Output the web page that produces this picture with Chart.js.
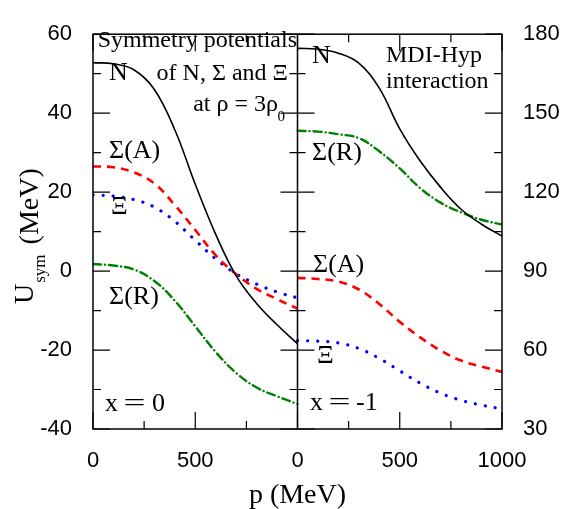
<!DOCTYPE html>
<html>
<head>
<meta charset="utf-8">
<script src="https://cdn.jsdelivr.net/npm/chart.js@4.4.0/dist/chart.umd.min.js"></script>
<style>
  html, body { margin: 0; padding: 0; background: #fff; }
  #wrap { width: 564px; height: 509px; position: relative; }
</style>
</head>
<body>
<div id="wrap"><canvas id="c" width="564" height="509"></canvas></div>
<script>
// Momentum p (MeV)
const momentum = [0, 100, 200, 300, 400, 500, 600, 700, 800, 900, 1000];

// Left panel: x = 0 (MeV, left axis)
const leftN      = [52.8, 52.5, 51.0, 46.0, 35.8, 22.0, 9.3, -1.2, -8.2, -13.6, -18.4];
const leftSigmaA = [26.5, 26.3, 25.0, 22.2, 16.7, 10.4, 4.0, -0.8, -4.5, -7.1, -9.5];
const leftXi     = [19.3, 19.0, 18.1, 16.2, 12.6, 7.8, 3.1, -0.7, -3.3, -5.3, -6.8];
const leftSigmaR = [1.8, 1.4, 0.4, -2.5, -7.5, -14.0, -20.5, -25.8, -29.5, -31.7, -33.7];

// Right panel: x = -1 (MeV, right axis)
const rightN      = [174.6, 174.3, 172.8, 169.0, 159.5, 144.0, 131.8, 121.8, 113.5, 107.8, 103.3];
const rightSigmaR = [143.3, 143.0, 142.0, 140.5, 135.5, 129.0, 121.5, 116.0, 112.3, 109.5, 107.7];
const rightSigmaA = [87.4, 87.0, 86.0, 83.0, 77.5, 70.7, 64.8, 59.8, 56.0, 53.7, 51.7];
const rightXi     = [63.6, 63.4, 62.7, 60.6, 56.8, 52.1, 47.4, 43.6, 40.9, 39.1, 37.6];

// Tick labels
const xTickLabels = ['0', '500', '0', '500', '1000'];
const leftYTicks = [-40, -20, 0, 20, 40, 60];
const rightYTicks = [30, 60, 90, 120, 150, 180];

const pts = arr => momentum.map((p, i) => ({ x: p, y: arr[i] }));

Chart.defaults.font.family = '"Liberation Sans", Arial, sans-serif';
Chart.defaults.color = '#000';

const RED = '#ff0000', BLUE = '#0000ff', GREEN = '#008000', BLACK = '#000000';

function ds(data, color, dash, width, side, cap) {
  return {
    data: pts(data),
    borderColor: color,
    borderWidth: width,
    borderDash: dash,
    borderCapStyle: cap || 'butt',
    pointRadius: 0,
    fill: false,
    tension: 0.4,
    xAxisID: side === 'L' ? 'xL' : 'xR',
    yAxisID: side === 'L' ? 'yL' : 'yR'
  };
}

const framePlugin = {
  id: 'frame',
  afterDatasetsDraw(chart) {
    const ctx = chart.ctx;
    const a = chart.chartArea;
    const xL = chart.scales.xL, yL = chart.scales.yL, yR = chart.scales.yR;
    const xMid = xL.getPixelForValue(1000);
    ctx.save();
    ctx.strokeStyle = '#000';
    ctx.lineWidth = 1.5;
    ctx.strokeRect(a.left, a.top, a.right - a.left, a.bottom - a.top);
    ctx.beginPath();
    ctx.moveTo(xMid, a.top); ctx.lineTo(xMid, a.bottom);
    ctx.stroke();
    ctx.lineWidth = 1.2;
    ctx.beginPath();
    // left scale ticks
    for (let v = -40; v <= 60; v += 10) {
      const y = yL.getPixelForValue(v);
      const len = v % 20 === 0 ? 17 : 8;
      ctx.moveTo(a.left, y); ctx.lineTo(a.left + len, y);
      ctx.moveTo(xMid, y); ctx.lineTo(xMid - len, y);
    }
    // right scale ticks
    for (let v = 30; v <= 180; v += 15) {
      const y = yR.getPixelForValue(v);
      const len = v % 30 === 0 ? 17 : 8;
      ctx.moveTo(a.right, y); ctx.lineTo(a.right - len, y);
      ctx.moveTo(xMid, y); ctx.lineTo(xMid + len, y);
    }
    // x ticks
    for (let v = 0; v <= 2000; v += 250) {
      const x = xL.getPixelForValue(v);
      const len = v % 500 === 0 ? 17 : 8;
      ctx.moveTo(x, a.bottom); ctx.lineTo(x, a.bottom - len);
      ctx.moveTo(x, a.top); ctx.lineTo(x, a.top + len);
    }
    ctx.stroke();

    // annotations
    ctx.fillStyle = '#000';
    ctx.textBaseline = 'alphabetic';
    const serif = s => s + 'px "Liberation Serif", "Times New Roman", serif';
    const txt = (t, x, y, size, align) => {
      ctx.font = serif(size); ctx.textAlign = align || 'left'; ctx.fillText(t, x, y);
    };
    // "x = v" drawn piecewise to mimic the wide spacing
    const eqLabel = (xStart, eqCenter, valStart, val, y) => {
      txt('x', xStart, y, 26);
      ctx.save();
      ctx.translate(eqCenter, y);
      ctx.scale(1.5, 1);
      ctx.font = serif(26); ctx.textAlign = 'center';
      ctx.fillText('=', 0, 0);
      ctx.restore();
      txt(val, valStart, y, 26);
    };
    txt('Symmetry potentials', 297, 47, 24, 'right');
    txt('of N, \u03A3 and \u039E', 288, 80, 24, 'right');
    // at rho = 3 rho_0
    ctx.font = serif(15); const w0 = ctx.measureText('0').width;
    ctx.textAlign = 'left'; ctx.fillText('0', 285 - w0, 121);
    txt('at \u03C1 = 3\u03C1', 278, 111, 24, 'right');

    txt('N', 109, 80, 26);
    txt('\u03A3(A)', 109, 158, 26);
    txt('\u039E', 111, 214, 26);
    txt('\u03A3(R)', 109, 304, 26);
    eqLabel(105, 134.5, 152, '0', 411);

    txt('N', 312, 63, 26);
    txt('MDI-Hyp', 386, 62, 24);
    txt('interaction', 386, 88, 24);
    txt('\u03A3(R)', 312, 160, 26);
    txt('\u03A3(A)', 313, 272, 26);
    txt('\u039E', 317, 363, 26);
    eqLabel(310, 339.5, 356, '-1', 410);

    // y title: U_sym (MeV)
    ctx.save();
    ctx.translate(33, 304);
    ctx.rotate(-Math.PI / 2);
    ctx.textAlign = 'left';
    ctx.font = serif(28);
    ctx.fillText('U', 0, 0);
    const wU = ctx.measureText('U').width;
    ctx.font = serif(17);
    ctx.fillText('sym', wU + 1, 12);
    const wS = ctx.measureText('sym').width;
    ctx.font = serif(28);
    ctx.fillText(' (MeV)', wU + wS + 4, 5);
    ctx.restore();

    // x title
    ctx.font = serif(28);
    ctx.textAlign = 'center';
    ctx.fillText('p (MeV)', xMid, 503);
    ctx.restore();
  }
};

new Chart(document.getElementById('c'), {
  type: 'line',
  data: {
    datasets: [
      ds(leftN, BLACK, [], 1.6, 'L'),
      ds(leftSigmaA, RED, [8, 6], 2.6, 'L'),
      ds(leftXi, BLUE, [0.1, 10], 3.2, 'L', 'round'),
      ds(leftSigmaR, GREEN, [8, 4, 0.1, 4], 2.4, 'L', 'round'),
      ds(rightN, BLACK, [], 1.6, 'R'),
      ds(rightSigmaR, GREEN, [8, 4, 0.1, 4], 2.4, 'R', 'round'),
      ds(rightSigmaA, RED, [8, 6], 2.6, 'R'),
      ds(rightXi, BLUE, [0.1, 10], 3.2, 'R', 'round')
    ]
  },
  options: {
    responsive: false,
    animation: false,
    layout: { padding: { top: 22, left: 0, right: 0, bottom: 0 } },
    plugins: { legend: { display: false }, tooltip: { enabled: false } },
    scales: {
      xL: {
        type: 'linear', position: 'bottom', min: 0, max: 2000,
        afterFit: s => { s.height = 80; },
        afterBuildTicks: s => { s.ticks = [0, 500, 1000, 1500, 2000].map(v => ({ value: v })); },
        grid: { display: false, drawTicks: false },
        border: { display: false },
        ticks: {
          padding: 19, maxRotation: 0, autoSkip: false,
          font: { size: 22 },
          callback: (v) => xTickLabels[Math.round(v / 500)]
        }
      },
      xR: {
        type: 'linear', position: 'bottom', min: -1000, max: 1000, display: false
      },
      yL: {
        type: 'linear', position: 'left', min: -40, max: 60,
        afterFit: s => { s.width = 93; },
        afterBuildTicks: s => { s.ticks = leftYTicks.map(v => ({ value: v })); },
        grid: { display: false, drawTicks: false },
        border: { display: false },
        ticks: { padding: 21, autoSkip: false, font: { size: 22 } }
      },
      yR: {
        type: 'linear', position: 'right', min: 30, max: 180,
        afterFit: s => { s.width = 62; },
        afterBuildTicks: s => { s.ticks = rightYTicks.map(v => ({ value: v })); },
        grid: { display: false, drawTicks: false },
        border: { display: false },
        ticks: { padding: 21, autoSkip: false, font: { size: 22 } }
      }
    }
  },
  plugins: [framePlugin]
});
</script>
</body>
</html>
